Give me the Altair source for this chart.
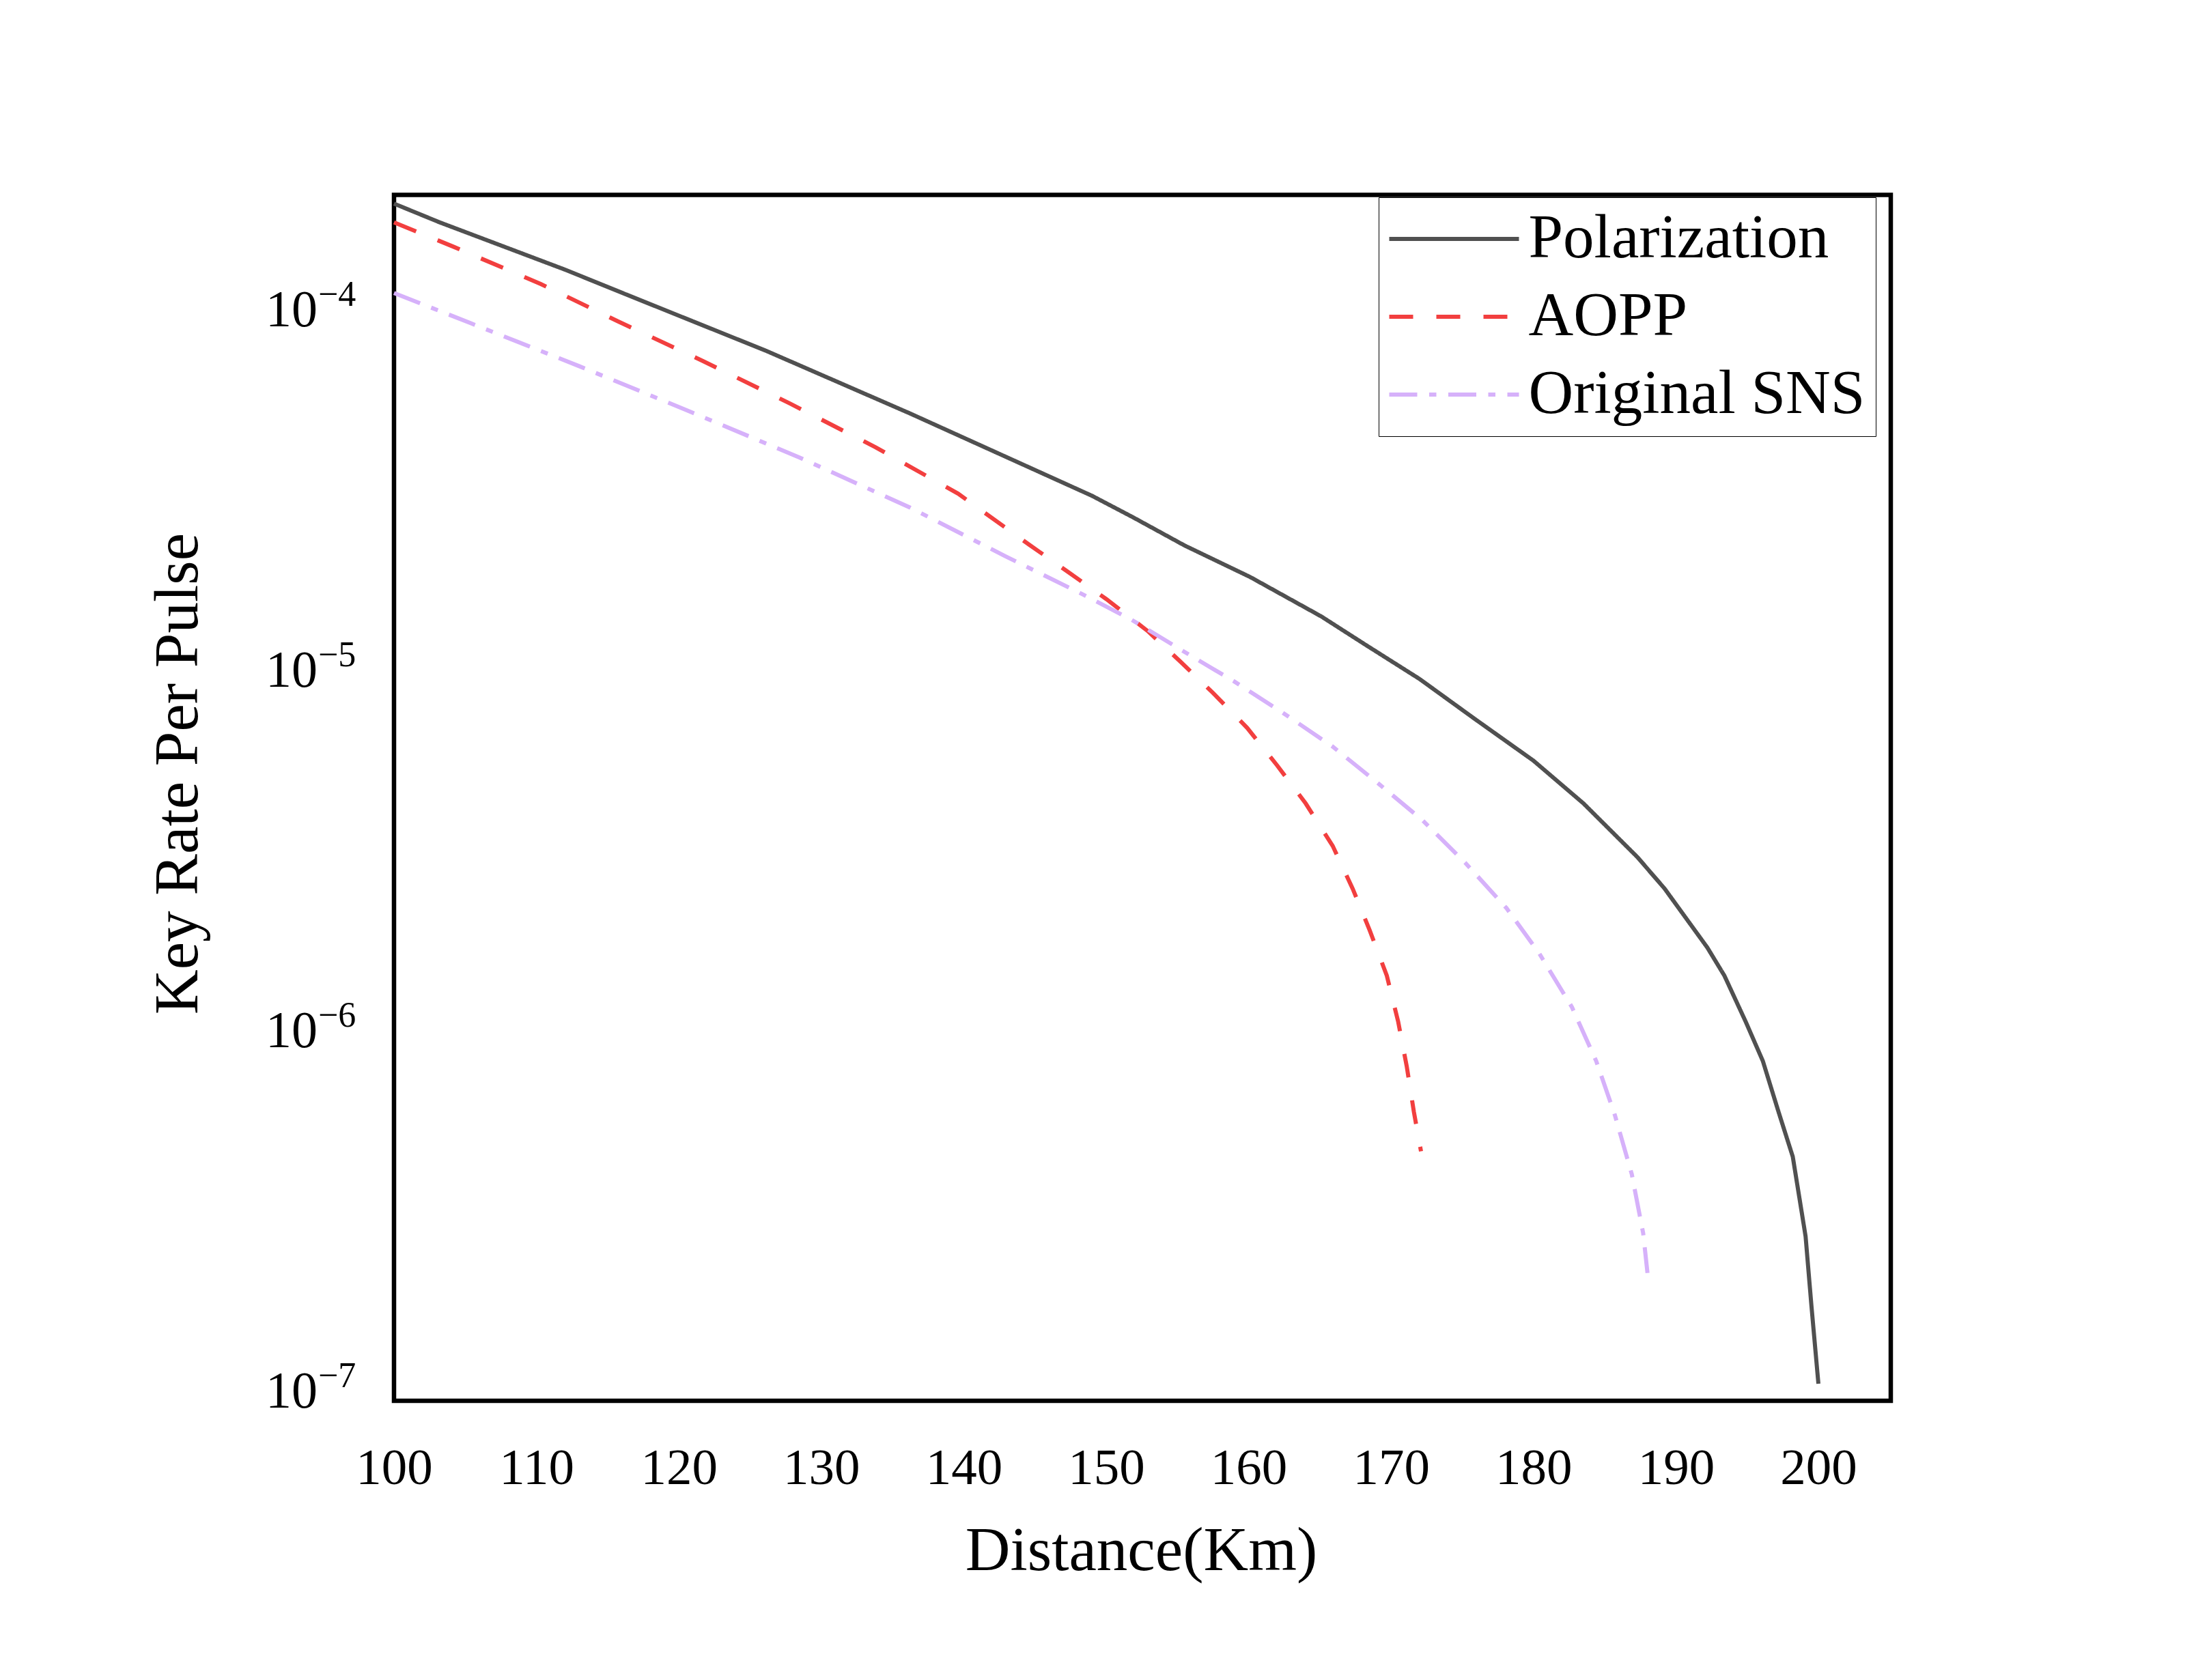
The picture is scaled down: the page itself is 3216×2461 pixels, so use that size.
import altair as alt
import pandas as pd

# ---- data ----
series_names = ["Polarization", "AOPP", "Original SNS"]
series_colors = ["#505050", "#F23F3F", "#D6B1FA"]
series_dashes = [[1, 0], [35, 34], [41, 17.5, 10.5, 17.5]]

pol_distance = [100, 103.2, 112, 116.3, 126.1, 136.2, 149, 151.9, 155.5, 160.1,
                165.1, 168.2, 172, 175.8, 180, 183.5, 187.3, 189.2, 192.2, 193.4,
                194.9, 196.1, 197.2, 198.2, 199.1, 199.5, 200]
pol_rate = [1.901e-4, 1.687e-4, 1.247e-4, 1.064e-4, 7.43e-5, 4.98e-5, 2.94e-5, 2.56e-5,
            2.14e-5, 1.75e-5, 1.36e-5, 1.135e-5, 9.12e-6, 7.10e-6, 5.41e-6, 4.12e-6,
            2.92e-6, 2.39e-6, 1.64e-6, 1.37e-6, 1.02e-6, 7.94e-7, 5.74e-7, 4.31e-7,
            2.59e-7, 1.68e-7, 1.01e-7]

aopp_distance = [100, 104.2, 110.3, 115.7, 121.7, 127.8, 133.8, 139.6, 144.6, 147.3,
                 150, 152.9, 155.2, 157.5, 159.9, 162, 164, 165.9, 167.3, 168.5,
                 169.7, 170.5, 171.1, 171.6, 172.1]
aopp_rate = [1.687e-4, 1.442e-4, 1.138e-4, 8.97e-5, 6.95e-5, 5.30e-5, 4.01e-5, 2.98e-5,
             2.15e-5, 1.81e-5, 1.52e-5, 1.24e-5, 1.02e-5, 8.34e-6, 6.67e-6, 5.25e-6,
             4.12e-6, 3.14e-6, 2.39e-6, 1.83e-6, 1.37e-6, 1.02e-6, 7.67e-7, 5.74e-7,
             4.46e-7]

sns_distance = [100, 105.4, 113, 120.7, 128.5, 136.2, 142.9, 148.3, 151.8, 155.4,
                159, 162.4, 165.9, 169.1, 172.2, 175.2, 178.1, 180.4, 182.7, 184.4,
                185.7, 186.9, 187.7, 188]
sns_rate = [1.074e-4, 8.85e-5, 6.73e-5, 5.05e-5, 3.75e-5, 2.73e-5, 2.00e-5, 1.57e-5,
            1.33e-5, 1.09e-5, 8.97e-6, 7.35e-6, 5.92e-6, 4.68e-6, 3.70e-6, 2.82e-6,
            2.11e-6, 1.58e-6, 1.12e-6, 7.94e-7, 5.64e-7, 3.85e-7, 2.64e-7, 2.05e-7]

x_ticks = [100, 110, 120, 130, 140, 150, 160, 170, 180, 190, 200]
y_ticks = [1e-4, 1e-5, 1e-6, 1e-7]
y_tick_base = ["10", "10", "10", "10"]
y_tick_exp = ["\u22124", "\u22125", "\u22126", "\u22127"]

# ---- tables ----
frames = []
for name, xs, ys in [(series_names[0], pol_distance, pol_rate),
                     (series_names[1], aopp_distance, aopp_rate),
                     (series_names[2], sns_distance, sns_rate)]:
    frames.append(pd.DataFrame({"distance": xs, "rate": ys, "series": name}))
df = pd.concat(frames, ignore_index=True)

tick_df = pd.DataFrame({"rate": y_ticks, "base": y_tick_base, "exp": y_tick_exp})

FONT = "Liberation Serif"
W, H = 2192, 1766.5

x_scale = alt.Scale(domain=[100, 205.08], nice=False, zero=False)
y_scale = alt.Scale(type="log", domain=[9.06e-8, 2.01e-4], nice=False)

y_axis = alt.Axis(labels=False, ticks=False, tickSize=0, domain=False, grid=False,
                  title="Key Rate Per Pulse", titleFont=FONT, titleFontSize=91,
                  titleFontWeight="normal", titleColor="black",
                  titleBaseline="alphabetic", titleAlign="center",
                  titleAngle=270, titleX=-289, titleY=847.5)

legend = alt.Legend(
    title=None,
    orient="none",
    legendX=1442,
    legendY=3.5,
    padding=15.5,
    rowPadding=22,
    strokeColor="black",
    fillColor="white",
    cornerRadius=0,
    symbolType="M-2.375,0H2.375",
    symbolSize=6400,
    symbolStrokeWidth=6,
    symbolOffset=49.5,
    labelOffset=63.5,
    labelFont=FONT,
    labelFontSize=91,
    labelColor="black",
    labelLimit=2000,
)

lines = alt.Chart(df).mark_line(strokeWidth=6).encode(
    x=alt.X("distance:Q", scale=x_scale,
            axis=alt.Axis(values=x_ticks, title="Distance(Km)", grid=False, ticks=False,
                          tickSize=0, domain=False, labelFont=FONT, labelFontSize=75,
                          labelColor="black", labelBaseline="alphabetic", labelPadding=121,
                          labelFlush=False, labelOverlap=False, format="d",
                          titleFont=FONT, titleFontSize=91, titleFontWeight="normal",
                          titleColor="black", titleBaseline="alphabetic",
                          titleX=1094, titleY=247, titleAlign="center")),
    y=alt.Y("rate:Q", scale=y_scale, axis=y_axis),
    color=alt.Color("series:N", scale=alt.Scale(domain=series_names, range=series_colors),
                    legend=legend),
    strokeDash=alt.StrokeDash("series:N",
                              scale=alt.Scale(domain=series_names, range=series_dashes),
                              legend=legend),
)

base_text = alt.Chart(tick_df).mark_text(
    align="right", baseline="alphabetic", dx=-112, dy=32.5,
    font=FONT, fontSize=76, color="black"
).encode(
    y=alt.Y("rate:Q", scale=y_scale, axis=y_axis),
    x=alt.value(0),
    text="base:N",
)

exp_text = alt.Chart(tick_df).mark_text(
    align="left", baseline="alphabetic", dx=-111, dy=2.5,
    font=FONT, fontSize=52, color="black"
).encode(
    y=alt.Y("rate:Q", scale=y_scale, axis=y_axis),
    x=alt.value(0),
    text="exp:N",
)

chart = alt.layer(lines, base_text, exp_text).properties(
    width=W,
    height=H,
    autosize=alt.AutoSizeParams(type="none"),
    padding={"left": 569, "top": 277.5, "right": 439, "bottom": 400},
    background="white",
).configure_view(
    stroke="black",
    strokeWidth=6.5,
)

chart.save("out.html", embed_options={"renderer": "svg", "actions": False})
